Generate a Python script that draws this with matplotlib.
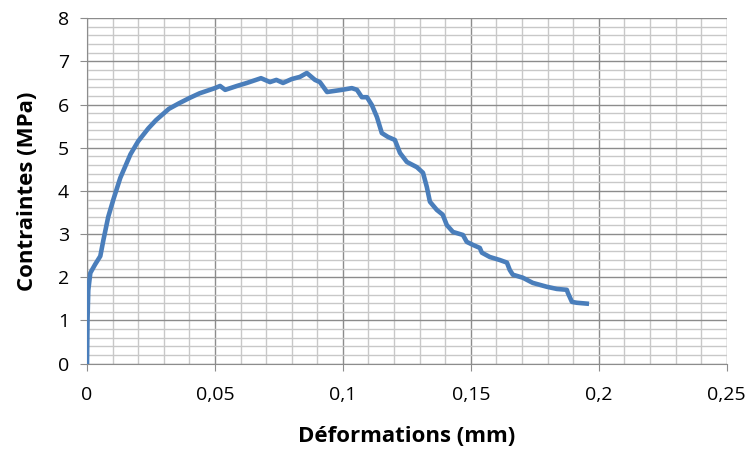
import matplotlib
matplotlib.use("Agg")
import matplotlib.pyplot as plt
from matplotlib.ticker import MultipleLocator, FuncFormatter

plt.rcParams['font.family'] = ['Open Sans', 'DejaVu Sans']

# deformation (mm) and stress (MPa)
deformation = [0.0, 0.0002, 0.0005, 0.0013, 0.0032, 0.0052, 0.0064, 0.0083, 0.0103,
               0.013, 0.017, 0.020, 0.024, 0.027, 0.032, 0.036, 0.040, 0.044, 0.050,
               0.052, 0.054, 0.0586, 0.0625, 0.068, 0.0715, 0.074, 0.0766, 0.080,
               0.0832, 0.0859, 0.0891, 0.091, 0.0938, 0.0961, 0.0996, 0.1035,
               0.1055, 0.1074, 0.1094, 0.1113, 0.1133, 0.1152, 0.1176, 0.1203,
               0.1223, 0.125, 0.1289, 0.1313, 0.1328, 0.134, 0.1367, 0.139,
               0.1406, 0.143, 0.1469, 0.1484, 0.1508, 0.1535, 0.1543, 0.1574,
               0.1613, 0.1641, 0.1652, 0.1664, 0.1703, 0.1742, 0.1797, 0.1836,
               0.1875, 0.1879, 0.1895, 0.1914, 0.1953]
stress = [0.0, 1.0, 1.7, 2.1, 2.3, 2.49, 2.86, 3.4, 3.8,
          4.3, 4.85, 5.15, 5.45, 5.64, 5.9, 6.03, 6.15, 6.26, 6.38,
          6.43, 6.34, 6.43, 6.5, 6.61, 6.52, 6.57, 6.5, 6.59,
          6.64, 6.73, 6.57, 6.52, 6.29, 6.31, 6.34, 6.38,
          6.34, 6.17, 6.17, 5.99, 5.71, 5.34, 5.25, 5.18,
          4.88, 4.67, 4.55, 4.42, 4.09, 3.75, 3.56, 3.45,
          3.21, 3.05, 2.98, 2.82, 2.75, 2.68, 2.57, 2.47,
          2.40, 2.34, 2.17, 2.06, 1.99, 1.87, 1.78, 1.73,
          1.71, 1.64, 1.43, 1.41, 1.39]

fig = plt.figure(figsize=(7.5, 4.54), dpi=100)
ax = fig.add_axes([0.116, 0.199, 0.853, 0.761])

ax.plot(deformation, stress, color='#4a7ebb', lw=3.3, solid_joinstyle='round', zorder=3)

ax.set_xlim(0, 0.25)
ax.set_ylim(0, 8)
ax.xaxis.set_major_locator(MultipleLocator(0.05))
ax.xaxis.set_minor_locator(MultipleLocator(0.01))
ax.yaxis.set_major_locator(MultipleLocator(1))
ax.yaxis.set_minor_locator(MultipleLocator(0.2))

def comma(v, pos):
    s = ('%.2f' % v).rstrip('0').rstrip('.')
    return s.replace('.', ',')

ax.xaxis.set_major_formatter(FuncFormatter(comma))
ax.yaxis.set_major_formatter(FuncFormatter(lambda v, p: '%d' % v))

ax.grid(which='major', color='#8c8c8c', lw=1.0)
ax.grid(which='minor', color='#c8c8c8', lw=1.0)
ax.set_axisbelow(True)

for side in ['top', 'right']:
    ax.spines[side].set_visible(False)
for side in ['left', 'bottom']:
    ax.spines[side].set_color('#8c8c8c')

ax.tick_params(which='major', length=5, color='#8c8c8c', labelsize=14, pad=8)
ax.tick_params(which='minor', length=0)
ax.tick_params(axis='x', pad=11)

ax.set_xlabel('Déformations (mm)', fontsize=16, fontweight='bold', labelpad=16)
ax.set_ylabel('Contraintes (MPa)', fontsize=16, fontweight='bold', labelpad=14)

fig.savefig('out.png', dpi=100)
